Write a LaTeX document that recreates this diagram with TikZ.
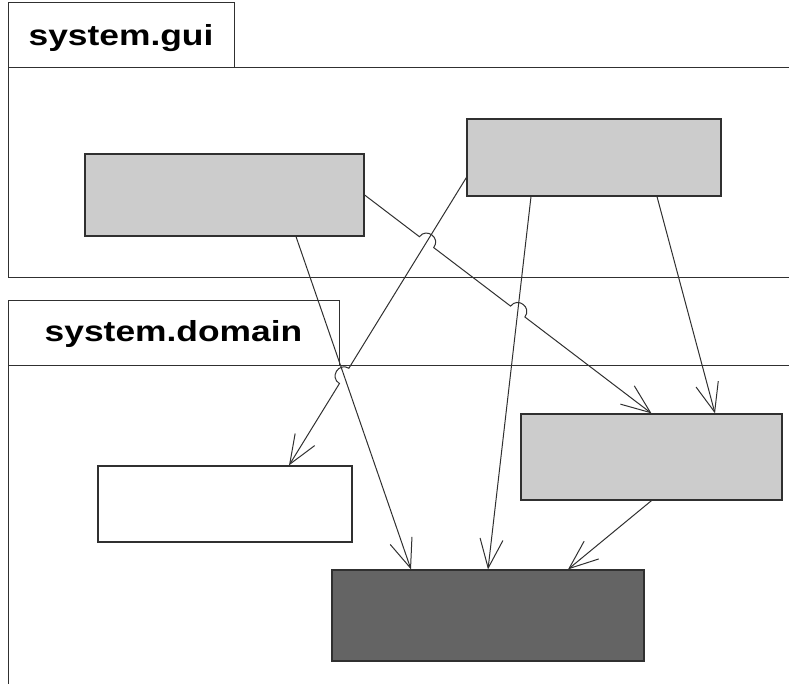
\documentclass[tikz,border=0pt]{standalone}
\usepackage{fontspec}
\setmainfont{Liberation Sans}
\usetikzlibrary{arrows.meta,calc,intersections}
\definecolor{lightfill}{HTML}{CCCCCC}
\definecolor{darkfill}{HTML}{646464}
\definecolor{inkline}{HTML}{303030}
\begin{document}
\begin{tikzpicture}[x=1pt,y=1pt,
    pkg/.style={draw=inkline, line width=1pt},
    pkglabel/.style={anchor=base, inner sep=0pt, font=\bfseries\fontsize{29}{34}\selectfont},
    cls/.style={draw=inkline, line width=1.2pt, inner sep=0pt},
    dep/.style={draw=inkline, line width=1pt, -{Straight Barb[length=29pt,width=23pt]}}]
    \clip (0,0) rectangle (789,684);

    % Package system.gui
    \draw[pkg] (8,681) rectangle (234,616);
    \draw[pkg] (8,616) rectangle (800,406);
    \node[pkglabel] (guilabel) at (121,638.5) {\scalebox{1.22}[1]{system.gui}};

    % Package system.domain
    \draw[pkg] (8,383) rectangle (339,318);
    \draw[pkg] (8,318) rectangle (800,-20);
    \node[pkglabel] (domlabel) at (173.5,342.5) {\scalebox{1.22}[1]{system.domain}};

    % Classes
    \node[cls, fill=lightfill, minimum width=279pt, minimum height=82pt] (A) at (224.5,489) {};
    \node[cls, fill=lightfill, minimum width=254pt, minimum height=77pt] (B) at (594,526.5) {};
    \node[cls, fill=white, minimum width=254pt, minimum height=76pt] (C) at (225,180) {};
    \node[cls, fill=lightfill, minimum width=261pt, minimum height=86pt] (D) at (651.5,227) {};
    \node[cls, fill=darkfill, minimum width=312pt, minimum height=91pt] (E) at (488,68.5) {};

    % End points
    \coordinate (aes) at ([xshift=71.5pt]A.south); \coordinate (aet) at ([xshift=-77pt]E.north);
    \coordinate (bcs) at ([yshift=-20pt]B.west);   \coordinate (bct) at ([xshift=64pt]C.north);
    \coordinate (bes) at ([xshift=-63pt]B.south);
    \coordinate (bds) at ([xshift=63pt]B.south);   \coordinate (bdt) at ([xshift=63.5pt]D.north);
    \coordinate (det) at ([xshift=80pt]E.north);

    % Crossings
    \path[name path=ad] (A.east) -- (D.north);
    \path[name path=bc] (bcs) -- (bct);
    \path[name path=be] (bes) -- (E.north);
    \path[name path=ae] (aes) -- (aet);
    \path[name intersections={of=ad and bc, by=j1}];
    \path[name intersections={of=ad and be, by=j2}];
    \path[name intersections={of=bc and ae, by=j3}];

    % Dependencies
    \draw[dep] (A.east) -- ($(j1)!9pt!(A.east)$) to[out=52.8,in=52.8,looseness=1.7] ($(j1)!9pt!(D.north)$)
        -- ($(j2)!9pt!(A.east)$) to[out=52.8,in=52.8,looseness=1.7] ($(j2)!9pt!(D.north)$) -- (D.north);
    \draw[dep] (aes) -- (aet);
    \draw[dep] (bcs) -- ($(j3)!9pt!(bcs)$) to[out=148.3,in=148.3,looseness=1.7] ($(j3)!9pt!(bct)$) -- (bct);
    \draw[dep] (bes) -- (E.north);
    \draw[dep] (bds) -- (bdt);
    \draw[dep] (D.south) -- (det);
\end{tikzpicture}
\end{document}
